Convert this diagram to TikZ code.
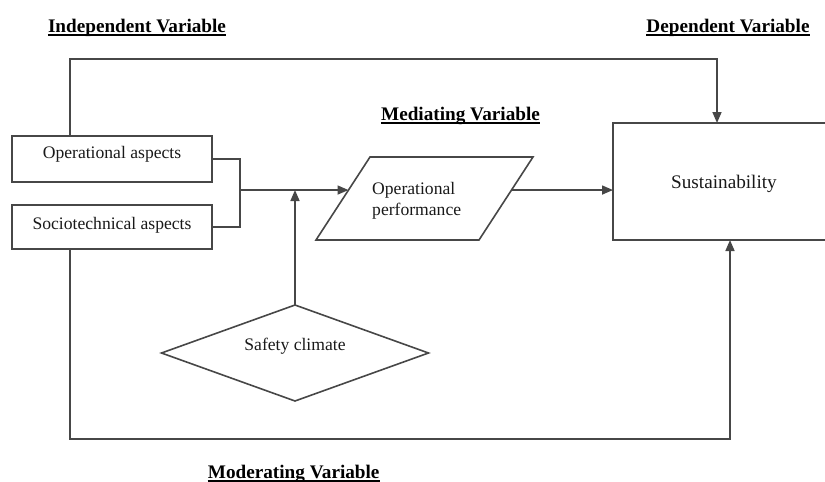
\documentclass[tikz,border=0pt]{standalone}
\usepackage{fontspec}
\setmainfont{Liberation Serif}
\usetikzlibrary{arrows.meta,calc,shapes.geometric}
\tikzset{
  ln/.style={draw=black!72, line width=1.6pt},
  arr/.style={ln, -{Triangle[length=11pt,width=9pt]}},
  box/.style={ln, rectangle, inner sep=0pt, outer sep=0pt, text=black!90,
    font=\fontsize{17.6}{20}\selectfont, text height=12pt},
  heading/.style={inner sep=0pt, anchor=base, text=black,
    font=\fontsize{19.2}{22}\bfseries\selectfont},
  uline/.style={draw=black, line width=1.8pt},
  txt/.style={inner sep=0pt, text=black!90, font=\fontsize{17.6}{20.5}\selectfont}
}
\begin{document}
\begin{tikzpicture}[x=1pt,y=-1pt]
\useasboundingbox (0,0) rectangle (825,482);
\clip (0,0) rectangle (825,482);
% headings
\node[heading] (hind) at (137,32) {Independent Variable};
\node[heading] (hdep) at (728,32) {Dependent Variable};
\node[heading] (hmed) at (460.5,120) {Mediating Variable};
\node[heading] (hmod) at (293.7,478) {Moderating Variable};
\foreach \h in {hind,hdep,hmed,hmod}
  \draw[uline] ([yshift=-3pt]\h.base west) -- ([yshift=-3pt]\h.base east);
% boxes
\node[box, minimum width=200pt, minimum height=46pt, text depth=14pt] (oa) at (112,159) {Operational aspects};
\node[box, minimum width=200pt, minimum height=44pt, text depth=8pt] (sa) at (112,227) {Sociotechnical aspects};
\node[box, minimum width=222pt, minimum height=117pt, text height=13pt, text depth=0pt,
  font=\fontsize{19.2}{22}\selectfont] (sus) at (724,181.5) {Sustainability};
\node[ln, diamond, shape aspect=2.78, inner sep=0pt, outer sep=0pt, minimum width=267pt, minimum height=96pt,
  text=black!90, font=\fontsize{17.6}{20}\selectfont, text height=12pt, text depth=18pt] (sc) at (295,353) {Safety climate};
% parallelogram
\coordinate (tl) at (370,157);
\coordinate (tr) at (533,157);
\coordinate (br) at (479,240);
\coordinate (bl) at (316,240);
\draw[ln, line join=miter] (tl) -- (tr) -- (br) -- (bl) -- cycle;
\coordinate (pl) at ($(tl)!0.398!(bl)$);
\coordinate (pr) at ($(tr)!0.398!(br)$);
\node[txt, anchor=west, align=left] (perf) at (372,201) {Operational\\performance};
% connectors
\coordinate (jn) at (240,190);
\draw[ln] (oa.east) -| (jn) |- (sa.east);
\draw[arr] (jn) -- (pl);
\draw[arr] (sc.north) -- (sc.north |- jn);
\draw[arr] (pr) -- (pr -| sus.west);
\coordinate (ttop) at (70,59);
\coordinate (tbot) at (70,439);
\draw[arr] ([xshift=-42pt]oa.north) -- (ttop) -| ([xshift=-7pt]sus.north);
\draw[arr] ([xshift=-42pt]sa.south) -- (tbot) -| ([xshift=6pt]sus.south);
\end{tikzpicture}
\end{document}
